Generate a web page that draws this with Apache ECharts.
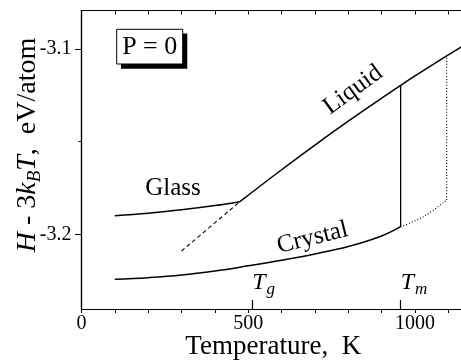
<!DOCTYPE html>
<html>
<head>
<meta charset="utf-8">
<script src="https://cdn.jsdelivr.net/npm/echarts@6/dist/echarts.min.js"></script>
<style>
  html, body { margin: 0; padding: 0; background: #fff; }
  #chart { width: 461px; height: 363px; }
</style>
</head>
<body>
<div id="chart"></div>
<script>
const FONT = 'Liberation Serif';

// Glass branch (solid), temperature in K, enthalpy in eV/atom
const glassT = [100, 200, 300, 400, 475];
const glassH = [-3.1900, -3.1887, -3.1868, -3.1845, -3.1824];

// Liquid branch (solid)
const liquidT = [475, 600, 700, 800, 900, 957, 1000, 1095, 1140];
const liquidH = [-3.1824, -3.1652, -3.1519, -3.1390, -3.1266, -3.1197, -3.1146, -3.1038, -3.0988];

// Supercooled liquid extrapolation (dashed)
const supercooledT = [300, 475];
const supercooledH = [-3.2090, -3.1824];

// Crystal branch (solid) up to the melting point
const crystalT = [100, 200, 300, 400, 500, 600, 700, 800, 900, 957];
const crystalH = [-3.2243, -3.2234, -3.2220, -3.2198, -3.2170, -3.2140, -3.2106, -3.2066, -3.2009, -3.1959];

// Superheated crystal (dotted)
const superheatedT = [957, 1025, 1095];
const superheatedH = [-3.1959, -3.1905, -3.1815];

// Axis ticks and labels
const xTickValues = [0, 100, 200, 300, 400, 500, 600, 700, 800, 900, 1000, 1100];
const xLabelValues = [0, 500, 1000];
const yLabelValues = [-3.2, -3.1];
const yMinorValues = [-3.15];

// Characteristic temperatures marked on the axis
const markT = [512, 957];
const markSub = ['g', 'm'];

const pairs = (xs, ys) => xs.map((x, i) => [x, ys[i]]);
const meltT = crystalT[crystalT.length - 1];
const limitT = superheatedT[superheatedT.length - 1];
const meltLine = [[meltT, crystalH[crystalH.length - 1]], [meltT, liquidH[liquidT.indexOf(meltT)]]];
const limitLine = [[limitT, superheatedH[superheatedH.length - 1]], [limitT, liquidH[liquidT.indexOf(limitT)]]];

const black = '#000';
const lineSeries = (data, type, width) => ({
  type: 'line', data: data, symbol: 'none', smooth: 0.4,
  lineStyle: { color: black, width: width, type: type }, silent: true, animation: false
});

const chart = echarts.init(document.getElementById('chart'), null, { renderer: 'canvas' });

const option = {
  backgroundColor: '#fff',
  animation: false,
  textStyle: { fontFamily: FONT },
  grid: { left: 81.5, top: 10.5, right: -4, bottom: 54, containLabel: false, outerBoundsMode: 'none' },
  xAxis: [
    {
      type: 'value', min: 0, max: 1150, position: 'bottom',
      axisLine: { show: true, lineStyle: { color: black, width: 1.2 } },
      axisTick: { show: true, inside: false, length: 4, customValues: xTickValues, lineStyle: { color: black, width: 1 } },
      axisLabel: { show: true, customValues: xLabelValues, margin: 5, color: black, fontFamily: FONT, fontSize: 20,
        formatter: (v) => String(v) },
      splitLine: { show: false },
      name: 'Temperature,  K', nameLocation: 'middle', nameGap: 24, nameMoveOverlap: false,
      nameTextStyle: { color: black, fontFamily: FONT, fontSize: 27, verticalAlign: 'top' }
    },
    {
      type: 'value', min: 0, max: 1150, position: 'top',
      axisLine: { show: true, lineStyle: { color: black, width: 1.2 } },
      axisTick: { show: true, inside: true, length: 4, customValues: xTickValues, lineStyle: { color: black, width: 1 } },
      axisLabel: { show: false },
      splitLine: { show: false }
    },
    {
      type: 'value', min: 0, max: 1150, position: 'bottom',
      axisLine: { show: false },
      axisTick: { show: true, inside: true, length: 9, customValues: markT, lineStyle: { color: black, width: 1.2 } },
      axisLabel: {
        show: true, inside: true, customValues: markT, margin: 11, align: 'left',
        formatter: (v) => '{t|T}{s|' + markSub[markT.indexOf(v)] + '}',
        rich: {
          t: { fontFamily: FONT, fontSize: 24, fontStyle: 'italic', color: black },
          s: { fontFamily: FONT, fontSize: 17, fontStyle: 'italic', color: black, padding: [14, 0, 0, 1] }
        }
      },
      splitLine: { show: false }
    }
  ],
  yAxis: [
    {
      type: 'value', min: -3.2403, max: -3.0793, position: 'left',
      axisLine: { show: true, lineStyle: { color: black, width: 1.2 } },
      axisTick: { show: true, inside: false, length: 6.5, customValues: yLabelValues, lineStyle: { color: black, width: 1 } },
      axisLabel: { show: true, customValues: yLabelValues, margin: 10, color: black, fontFamily: FONT, fontSize: 20,
        formatter: (v) => v.toFixed(1) },
      splitLine: { show: false }
    },
    {
      type: 'value', min: -3.2403, max: -3.0793, position: 'left',
      axisLine: { show: false },
      axisTick: { show: true, inside: false, length: 3, customValues: yMinorValues, lineStyle: { color: black, width: 1 } },
      axisLabel: { show: false },
      splitLine: { show: false }
    },
    {
      type: 'value', min: -3.2403, max: -3.0793, position: 'right',
      axisLine: { show: true, lineStyle: { color: black, width: 1.2 } },
      axisTick: { show: true, inside: true, length: 5, customValues: yLabelValues, lineStyle: { color: black, width: 1 } },
      axisLabel: { show: false },
      splitLine: { show: false }
    }
  ],
  series: [
    lineSeries(pairs(glassT, glassH), 'solid', 1.5),
    lineSeries(pairs(liquidT, liquidH), 'solid', 1.5),
    lineSeries(pairs(supercooledT, supercooledH), [4, 3], 1.1),
    lineSeries(pairs(crystalT, crystalH), 'solid', 1.5),
    lineSeries(pairs(superheatedT, superheatedH), [1, 2], 1.1),
    lineSeries(meltLine, 'solid', 1.3),
    lineSeries(limitLine, [1, 2], 1.1)
  ],
  graphic: [
    {
      type: 'text', x: 28, y: 145, rotation: Math.PI / 2,
      style: {
        text: '{i|H} - 3{i|k}{s|B}{i|T},  eV/atom',
        align: 'center', verticalAlign: 'middle',
        fontFamily: FONT, fontSize: 28, fill: black,
        rich: {
          i: { fontFamily: FONT, fontSize: 28, fontStyle: 'italic', fill: black },
          s: { fontFamily: FONT, fontSize: 19, fontStyle: 'italic', fill: black, padding: [14, 0, 0, 0] }
        }
      }
    },
    { type: 'rect', shape: { x: 121, y: 33.5, width: 66.3, height: 35.2 }, style: { fill: black }, z: 10 },
    { type: 'rect', shape: { x: 116.7, y: 29.3, width: 66, height: 34.7 }, style: { fill: '#fff', stroke: black, lineWidth: 1 }, z: 11 },
    { type: 'text', x: 149.7, y: 47, z: 12,
      style: { text: 'P = 0', align: 'center', verticalAlign: 'middle', fontFamily: FONT, fontSize: 26, fill: black } },
    { type: 'text', x: 173, y: 188, z: 12,
      style: { text: 'Glass', align: 'center', verticalAlign: 'middle', fontFamily: FONT, fontSize: 25, fill: black } },
    { type: 'text', x: 353, y: 90, rotation: 36 * Math.PI / 180, z: 12,
      style: { text: 'Liquid', align: 'center', verticalAlign: 'middle', fontFamily: FONT, fontSize: 25, fill: black } },
    { type: 'text', x: 312.5, y: 238, rotation: 14 * Math.PI / 180, z: 12,
      style: { text: 'Crystal', align: 'center', verticalAlign: 'middle', fontFamily: FONT, fontSize: 25, fill: black } }
  ]
};

chart.setOption(option);
</script>
</body>
</html>
